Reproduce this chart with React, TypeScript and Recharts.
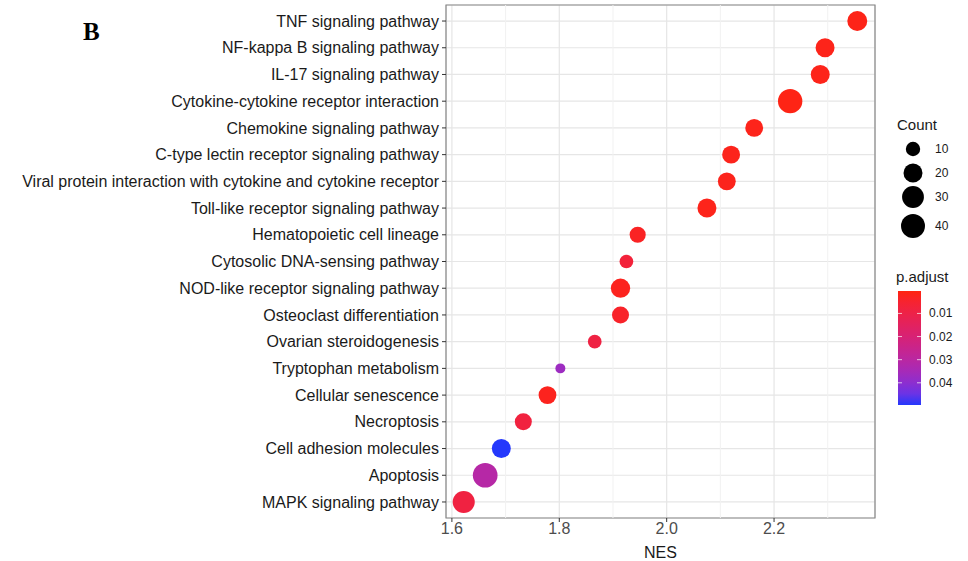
import React from 'react';
import {
  ScatterChart,
  Scatter,
  XAxis,
  YAxis,
  ZAxis,
  CartesianGrid,
  ReferenceLine,
  ReferenceArea,
  Cell,
} from 'recharts';

// pathways, top to bottom as in the figure
const pathways = [
  'TNF signaling pathway',
  'NF-kappa B signaling pathway',
  'IL-17 signaling pathway',
  'Cytokine-cytokine receptor interaction',
  'Chemokine signaling pathway',
  'C-type lectin receptor signaling pathway',
  'Viral protein interaction with cytokine and cytokine receptor',
  'Toll-like receptor signaling pathway',
  'Hematopoietic cell lineage',
  'Cytosolic DNA-sensing pathway',
  'NOD-like receptor signaling pathway',
  'Osteoclast differentiation',
  'Ovarian steroidogenesis',
  'Tryptophan metabolism',
  'Cellular senescence',
  'Necroptosis',
  'Cell adhesion molecules',
  'Apoptosis',
  'MAPK signaling pathway',
];
const nesValues = [
  2.355, 2.295, 2.286, 2.23, 2.163, 2.12, 2.112, 2.075, 1.946, 1.925,
  1.914, 1.914, 1.866, 1.802, 1.778, 1.733, 1.692, 1.662, 1.622,
];
const counts = [23, 20, 20, 42, 17, 17, 17, 20, 13, 9, 21, 15, 9, 5, 17, 15, 20, 44, 31];
const pAdjust = [
  0.0012, 0.0015, 0.0015, 0.0008, 0.0016, 0.0018, 0.0018, 0.0016, 0.003, 0.007,
  0.002, 0.004, 0.009, 0.037, 0.002, 0.008, 0.0496, 0.031, 0.0085,
];

const xTicks = [1.6, 1.8, 2.0, 2.2];
const xMinor = [1.7, 1.9, 2.1, 2.3];
const countBreaks = [10, 20, 30, 40];
const pBreaks = [0.01, 0.02, 0.03, 0.04];

const X_DOMAIN: [number, number] = [1.589, 2.388];
const Y_DOMAIN: [number, number] = [-0.6, pathways.length - 0.4];
const Z_DOMAIN: [number, number] = [5, 44];
const Z_RANGE: [number, number] = [78, 480];
const P_MIN = 0.0003;
const P_MAX = 0.0496;

const n = pathways.length;
const data = pathways.map((name, i) => ({
  name,
  nes: nesValues[i],
  idx: n - 1 - i,
  count: counts[i],
  p: pAdjust[i],
}));

// red -> blue gradient, interpolated in Lab like ggplot does
function toLin(c: number) {
  c /= 255;
  return c <= 0.04045 ? c / 12.92 : Math.pow((c + 0.055) / 1.055, 2.4);
}
function fromLin(c: number) {
  const v = c <= 0.0031308 ? 12.92 * c : 1.055 * Math.pow(c, 1 / 2.4) - 0.055;
  return Math.max(0, Math.min(255, Math.round(v * 255)));
}
const WX = 0.95047, WY = 1, WZ = 1.08883;
function rgbToLab([r, g, b]: number[]) {
  const R = toLin(r), G = toLin(g), B = toLin(b);
  const x = (R * 0.4124 + G * 0.3576 + B * 0.1805) / WX;
  const y = (R * 0.2126 + G * 0.7152 + B * 0.0722) / WY;
  const z = (R * 0.0193 + G * 0.1192 + B * 0.9505) / WZ;
  const f = (t: number) => (t > 0.008856 ? Math.cbrt(t) : 7.787 * t + 16 / 116);
  return [116 * f(y) - 16, 500 * (f(x) - f(y)), 200 * (f(y) - f(z))];
}
function labToHex([L, a, b]: number[]) {
  const fy = (L + 16) / 116, fx = fy + a / 500, fz = fy - b / 200;
  const g = (t: number) => (t * t * t > 0.008856 ? t * t * t : (t - 16 / 116) / 7.787);
  const x = g(fx) * WX, y = g(fy) * WY, z = g(fz) * WZ;
  const R = x * 3.2406 + y * -1.5372 + z * -0.4986;
  const G = x * -0.9689 + y * 1.8758 + z * 0.0415;
  const B = x * 0.0557 + y * -0.204 + z * 1.057;
  return '#' + [R, G, B].map((c) => fromLin(c).toString(16).padStart(2, '0')).join('');
}
const LOW = rgbToLab([255, 36, 16]);
const HIGH = rgbToLab([36, 56, 252]);
function pColor(p: number) {
  const t = Math.max(0, Math.min(1, (p - P_MIN) / (P_MAX - P_MIN)));
  return labToHex(LOW.map((v, i) => v + (HIGH[i] - v) * t));
}

// same sqrt mapping as the ZAxis, for the size legend
function legendRadius(c: number) {
  const s = (Math.sqrt(c) - Math.sqrt(Z_DOMAIN[0])) / (Math.sqrt(Z_DOMAIN[1]) - Math.sqrt(Z_DOMAIN[0]));
  const area = Z_RANGE[0] + (Z_RANGE[1] - Z_RANGE[0]) * s;
  return Math.sqrt(area / Math.PI);
}

const FONT = '"Liberation Sans", Arial, sans-serif';

function Legends() {
  const barTop = 291;
  const barH = 114;
  const barX = 898;
  const barW = 23;
  const stops = Array.from({ length: 11 }, (_, i) => i / 10);
  const countY = [149, 173, 197, 226];
  return (
    <svg
      width={968}
      height={561}
      style={{ position: 'absolute', left: 0, top: 0, pointerEvents: 'none' }}
    >
      <text x={83} y={40} fontFamily='"Liberation Serif", "Times New Roman", serif' fontWeight="bold" fontSize={25} fill="#000">
        B
      </text>
      <text x={897} y={130} fontFamily={FONT} fontSize={15} fill="#1a1a1a">Count</text>
      {countBreaks.map((c, i) => (
        <g key={c}>
          <circle cx={913} cy={countY[i]} r={legendRadius(c)} fill="#000" />
          <text x={935} y={countY[i] + 4} fontFamily={FONT} fontSize={12} fill="#1a1a1a">{c}</text>
        </g>
      ))}
      <text x={896} y={282} fontFamily={FONT} fontSize={15} fill="#1a1a1a">p.adjust</text>
      <defs>
        <linearGradient id="pgrad" x1="0" y1="0" x2="0" y2="1">
          {stops.map((t) => (
            <stop key={t} offset={t} stopColor={pColor(P_MIN + t * (P_MAX - P_MIN))} />
          ))}
        </linearGradient>
      </defs>
      <rect x={barX} y={barTop} width={barW} height={barH} fill="url(#pgrad)" />
      {pBreaks.map((p) => {
        const y = barTop + ((p - P_MIN) / (P_MAX - P_MIN)) * barH;
        return (
          <g key={p}>
            <line x1={barX} x2={barX + 4} y1={y} y2={y} stroke="#fff" strokeOpacity={0.7} />
            <line x1={barX + barW - 4} x2={barX + barW} y1={y} y2={y} stroke="#fff" strokeOpacity={0.7} />
            <text x={929} y={y + 4} fontFamily={FONT} fontSize={12} fill="#1a1a1a">{p.toFixed(2)}</text>
          </g>
        );
      })}
    </svg>
  );
}

export default function App() {
  return (
    <div style={{ position: 'absolute', left: 0, top: 0, width: 968, height: 561, background: '#fff' }}>
      <ScatterChart
        width={968}
        height={561}
        margin={{ top: 5, right: 93, bottom: 0, left: 0 }}
        style={{ fontFamily: FONT }}
      >
        <CartesianGrid stroke="#e6e6e6" strokeWidth={1.2} />
        {xMinor.map((v) => (
          <ReferenceLine key={v} x={v} stroke="#f1f1f1" strokeWidth={1} />
        ))}
        <XAxis
          type="number"
          dataKey="nes"
          domain={X_DOMAIN}
          ticks={xTicks}
          allowDataOverflow
          tickFormatter={(v: number) => v.toFixed(1)}
          axisLine={false}
          tickLine={{ stroke: '#333' }}
          tickSize={4}
          tickMargin={1}
          height={43}
          tick={{ fontSize: 16, fill: '#4d4d4d' }}
          label={{ value: 'NES', position: 'insideBottom', offset: 3, fontSize: 16, fill: '#1a1a1a' }}
        />
        <YAxis
          type="number"
          dataKey="idx"
          domain={Y_DOMAIN}
          ticks={data.map((d) => d.idx)}
          interval={0}
          allowDataOverflow
          tickFormatter={(v: number) => pathways[n - 1 - v]}
          axisLine={false}
          tickLine={{ stroke: '#333' }}
          tickSize={4}
          tickMargin={3}
          width={446}
          tick={{ fontSize: 16, fill: '#1a1a1a' }}
        />
        <ZAxis type="number" dataKey="count" domain={Z_DOMAIN} range={Z_RANGE} scale="sqrt" />
        <Scatter data={data} shape="circle" isAnimationActive={false}>
          {data.map((d, i) => (
            <Cell key={`cell-${i}`} fill={pColor(d.p)} />
          ))}
        </Scatter>
        <ReferenceArea
          x1={X_DOMAIN[0]}
          x2={X_DOMAIN[1]}
          y1={Y_DOMAIN[0]}
          y2={Y_DOMAIN[1]}
          fill="none"
          stroke="#888"
          strokeWidth={1.2}
        />
      </ScatterChart>
      <Legends />
    </div>
  );
}
